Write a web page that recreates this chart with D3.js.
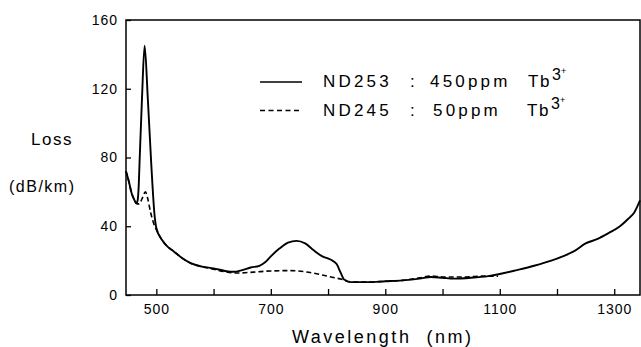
<!DOCTYPE html>
<html>
<head>
<meta charset="utf-8">
<script src="https://cdn.jsdelivr.net/npm/d3@7"></script>
<style>
  body { margin: 0; background: #fff; }
  svg { display: block; font-family: "Liberation Sans", Arial, sans-serif; }
</style>
</head>
<body>
<div id="chart"></div>
<script>
// spectra (wavelength nm, loss dB/km)
var wlSolid = [447, 452, 457, 462, 465, 467, 469, 471, 475, 479.5, 485, 491, 497, 500, 510, 520, 530, 545, 560, 580, 600,
               620, 635, 650, 665, 680, 690, 700, 715, 730, 745, 760, 775, 790, 805, 815, 822, 828, 840, 870, 900,
               930, 960, 980, 1000, 1020, 1050, 1080, 1100, 1130, 1160, 1190, 1210, 1230, 1250, 1270, 1290, 1310, 1325, 1335, 1345];
var lossSolid = [72, 66, 59, 55, 53.3, 54.5, 62, 80, 115, 145, 115, 77, 46, 39, 32, 28, 25.5, 21.5, 18.5, 16.5, 15.5,
                 14, 13.5, 14.5, 16, 17, 19, 22.5, 27, 30.5, 31.5, 30, 26, 22.5, 20.5, 18, 13, 9, 7.5, 7.5, 8,
                 8.5, 9.5, 10.5, 10, 9.5, 10, 11, 12.2, 14.5, 17, 20, 22.5, 25.5, 30, 32.5, 36, 40, 44.5, 48, 55];

var wlDashed = [447, 452, 457, 462, 465, 470, 475, 481, 485, 490, 495, 500, 510, 520, 530, 545, 560, 580, 600, 620,
                640, 670, 700, 735, 760, 785, 805, 825, 840, 870, 900, 930, 960, 980, 1000, 1040, 1070, 1097];
var lossDashed = [72, 66, 59, 55, 53.3, 53, 56, 60, 56, 48, 42, 38, 32, 28, 25.5, 21.5, 18.5, 16.5, 15, 13.5,
                  12.8, 13.3, 14, 14.2, 13.5, 12, 10.5, 9, 7.5, 7.5, 8, 8.5, 10, 11, 10.5, 10.5, 11, 11];

var xTicks = [500, 600, 700, 800, 900, 1000, 1100, 1200, 1300];
var xLabels = [500, 700, 900, 1100, 1300];
var yTicks = [0, 40, 80, 120, 160];

var legendNames = ["ND253", "ND245"];
var legendConc = ["450ppm", "50ppm"];

var W = 641, H = 347;
var margin = {top: 20, right: 1, bottom: 52, left: 126},
    width = W - margin.left - margin.right,
    height = H - margin.top - margin.bottom;

var svg = d3.select("#chart").append("svg")
    .attr("width", W)
    .attr("height", H);

var g = svg.append("g")
    .attr("transform", `translate(${margin.left},${margin.top})`);

var x = d3.scaleLinear().domain([447, 1345]).range([0, width]);
var y = d3.scaleLinear().domain([0, 160]).range([height, 0]);

// frame
g.append("rect")
    .attr("width", width)
    .attr("height", height)
    .attr("fill", "none")
    .attr("stroke", "#000")
    .attr("stroke-width", 1.5);

// x axis, ticks pointing in
var xAxis = g.append("g")
    .attr("transform", `translate(0,${height})`)
    .call(d3.axisBottom(x)
        .tickValues(xTicks)
        .tickSizeInner(-6)
        .tickSizeOuter(0)
        .tickPadding(9)
        .tickFormat(d => xLabels.includes(d) ? d : ""));
xAxis.select(".domain").remove();
xAxis.selectAll("line").attr("stroke", "#000").attr("stroke-width", 1.3);
xAxis.selectAll("text")
    .attr("fill", "#000")
    .style("font-size", "14px")
    .style("letter-spacing", "1px");

// y axis
var yAxis = g.append("g")
    .call(d3.axisLeft(y)
        .tickValues(yTicks)
        .tickSizeInner(-5)
        .tickSizeOuter(0)
        .tickPadding(8));
yAxis.select(".domain").remove();
yAxis.selectAll("line").attr("stroke", "#000").attr("stroke-width", 1.3);
yAxis.selectAll("text")
    .attr("fill", "#000")
    .style("font-size", "14px")
    .style("letter-spacing", "1px");

// curves
var line = d3.line()
    .x(d => x(d[0]))
    .y(d => y(d[1]))
    .curve(d3.curveMonotoneX);

g.append("path")
    .datum(d3.zip(wlDashed, lossDashed))
    .attr("fill", "none")
    .attr("stroke", "#000")
    .attr("stroke-width", 1.6)
    .attr("stroke-dasharray", "5,3")
    .attr("d", line);

g.append("path")
    .datum(d3.zip(wlSolid, lossSolid))
    .attr("fill", "none")
    .attr("stroke", "#000")
    .attr("stroke-width", 1.9)
    .attr("d", line);

// axis titles
svg.append("text")
    .attr("x", 31)
    .attr("y", 145)
    .style("font-size", "17px")
    .style("letter-spacing", "1.5px")
    .text("Loss");

svg.append("text")
    .attr("x", 9)
    .attr("y", 192)
    .style("font-size", "16px")
    .style("letter-spacing", "1.5px")
    .text("(dB/km)");

svg.append("text")
    .attr("x", 292)
    .attr("y", 343)
    .style("font-size", "18px")
    .style("letter-spacing", "2.5px")
    .style("white-space", "pre")
    .attr("xml:space", "preserve")
    .text("Wavelength  (nm)");

// legend
var legend = svg.append("g");
legendNames.forEach(function(name, i){
    var ly = 82 + i * 28.5;
    legend.append("line")
        .attr("x1", 260).attr("x2", 302)
        .attr("y1", ly).attr("y2", ly)
        .attr("stroke", "#000")
        .attr("stroke-width", i == 0 ? 1.6 : 1.4)
        .attr("stroke-dasharray", i == 0 ? null : "5,3.5");
    var t = legend.append("g")
        .style("font-size", "17px")
        .style("letter-spacing", "3.2px");
    t.append("text").attr("x", 323).attr("y", ly + 5).text(name);
    t.append("text").attr("x", 410).attr("y", ly + 5).text(":");
    t.append("text").attr("x", i == 0 ? 430 : 433).attr("y", ly + 5).text(legendConc[i]);
    t.append("text").attr("x", i == 0 ? 528 : 527).attr("y", ly + 5).style("letter-spacing", "1.5px").text("Tb");
    t.append("text").attr("x", i == 0 ? 552 : 551).attr("y", ly - 2).style("font-size", "16px").style("letter-spacing", "0px").text("3");
    t.append("text").attr("x", i == 0 ? 561 : 560).attr("y", ly - 8).style("font-size", "9px").style("letter-spacing", "0px").text("+");
});
</script>
</body>
</html>
